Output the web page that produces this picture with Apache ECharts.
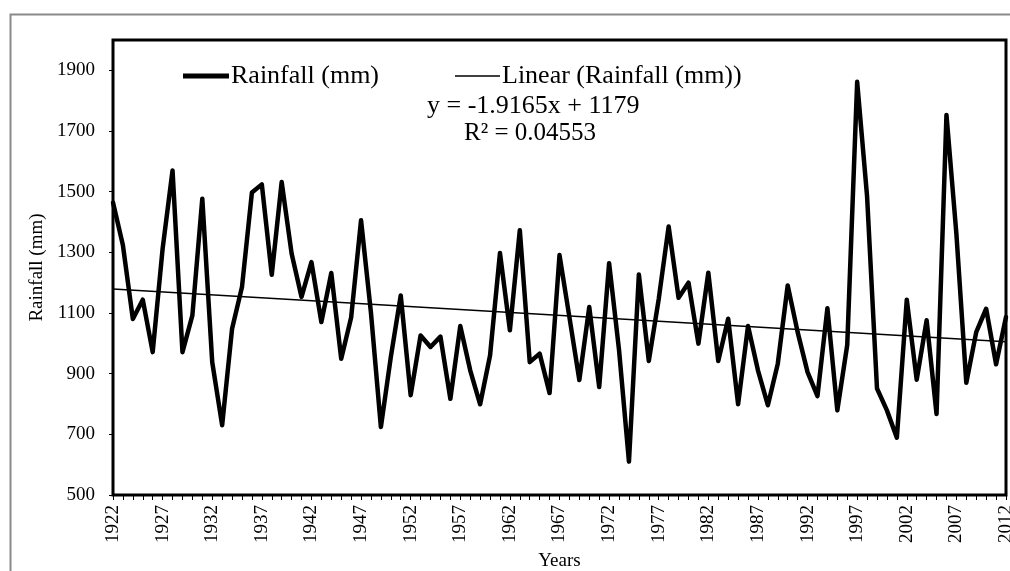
<!DOCTYPE html>
<html>
<head>
<meta charset="utf-8">
<script src="https://cdn.jsdelivr.net/npm/echarts@6/dist/echarts.min.js"></script>
<style>
html,body{margin:0;padding:0;background:#fff;}
#c{width:1010px;height:571px;}
</style>
</head>
<body>
<div id="c"></div>
<script>
const years = [];
for (let y = 1922; y <= 2012; y++) years.push(String(y));

const rainfall = [
  1464, 1323, 1080, 1144, 971, 1312, 1570, 971, 1092, 1477,
  938, 730, 1048, 1186, 1497, 1524, 1226, 1532, 1296, 1153,
  1268, 1070, 1232, 949, 1085, 1406, 1100, 724, 955, 1158,
  829, 1026, 988, 1022, 817, 1057, 911, 799, 960, 1298,
  1043, 1373, 938, 966, 836, 1291, 1086, 879, 1120, 856,
  1264, 978, 610, 1227, 942, 1146, 1385, 1150, 1200, 999,
  1233, 942, 1081, 799, 1057, 911, 796, 933, 1191, 1037,
  905, 826, 1116, 779, 995, 1862, 1484, 851, 779, 689,
  1144, 880, 1076, 767, 1753, 1361, 870, 1037, 1114, 931,
  1087
];

// trend line end values (1922 and 2012)
const trendStart = 1179;
const trendEnd = 1005;
const trend = years.map((_, i) => i === 0 ? trendStart : (i === years.length - 1 ? trendEnd : null));

const equationText = 'y = -1.9165x + 1179';
const r2Text = 'R² = 0.04553';

const serif = '"Liberation Serif", "Times New Roman", serif';

const chart = echarts.init(document.getElementById('c'), null, {renderer: 'canvas'});
chart.setOption({
  backgroundColor: '#fff',
  animation: false,
  grid: {
    left: 113, right: 4, top: 40, bottom: 76,
    outerBoundsMode: 'none',
    containLabel: false,
    show: true, borderColor: '#000', borderWidth: 3, backgroundColor: 'transparent'
  },
  legend: [
    {
      data: [{name: 'Rainfall (mm)', icon: 'rect'}],
      left: 178, top: 58,
      itemWidth: 46, itemHeight: 5, itemGap: 0,
      textStyle: {fontFamily: serif, fontSize: 26, color: '#000', padding: [0,0,0,-3]}
    },
    {
      data: [{name: 'Linear (Rainfall (mm))', icon: 'rect'}],
      left: 450, top: 58,
      itemWidth: 45, itemHeight: 1.5, itemGap: 0,
      textStyle: {fontFamily: serif, fontSize: 26, color: '#000', padding: [0,0,0,-3]}
    }
  ],
  xAxis: {
    type: 'category',
    data: years,
    boundaryGap: false,
    name: 'Years',
    nameLocation: 'middle',
    nameGap: 57,
    nameTextStyle: {fontFamily: serif, fontSize: 19, color: '#000'},
    axisLine: {show: true, lineStyle: {color: '#000', width: 2}},
    axisTick: {show: true, interval: 0, length: 5, lineStyle: {color: '#000', width: 1}},
    axisLabel: {interval: 4, rotate: 90, margin: 10, fontFamily: serif, fontSize: 19, color: '#000'},
    splitLine: {show: false}
  },
  yAxis: {
    type: 'value',
    min: 500, max: 2000, interval: 200,
    name: 'Rainfall (mm)',
    nameLocation: 'middle',
    nameGap: 58,
    nameRotate: 90,
    nameTextStyle: {fontFamily: serif, fontSize: 19, color: '#000'},
    axisLine: {show: true, lineStyle: {color: '#000', width: 2}},
    axisTick: {show: true, length: 4, inside: false, lineStyle: {color: '#000', width: 1}},
    axisLabel: {
      showMaxLabel: false, margin: 18, fontFamily: serif, fontSize: 19, color: '#000',
      formatter: v => String(v)
    },
    splitLine: {show: false}
  },
  series: [
    {
      name: 'Rainfall (mm)',
      type: 'line',
      data: rainfall,
      symbol: 'none',
      lineStyle: {color: '#000', width: 4.5, join: 'round', cap: 'round'},
      itemStyle: {color: '#000'},
      z: 3
    },
    {
      name: 'Linear (Rainfall (mm))',
      type: 'line',
      data: trend,
      connectNulls: true,
      symbol: 'none',
      lineStyle: {color: '#000', width: 1.5},
      itemStyle: {color: '#000'},
      z: 4
    }
  ],
  graphic: [
    {
      type: 'rect', left: 8, top: 12, silent: true,
      shape: {width: 1010, height: 570},
      style: {fill: 'none', stroke: '#8a8a8a', lineWidth: 2},
      z: -10
    },
    {
      type: 'text', left: 427, top: 93,
      style: {text: equationText, font: '26px ' + serif, fill: '#000'}
    },
    {
      type: 'text', left: 464, top: 121,
      style: {text: r2Text, font: '25px ' + serif, fill: '#000'}
    }
  ]
});
</script>
</body>
</html>
